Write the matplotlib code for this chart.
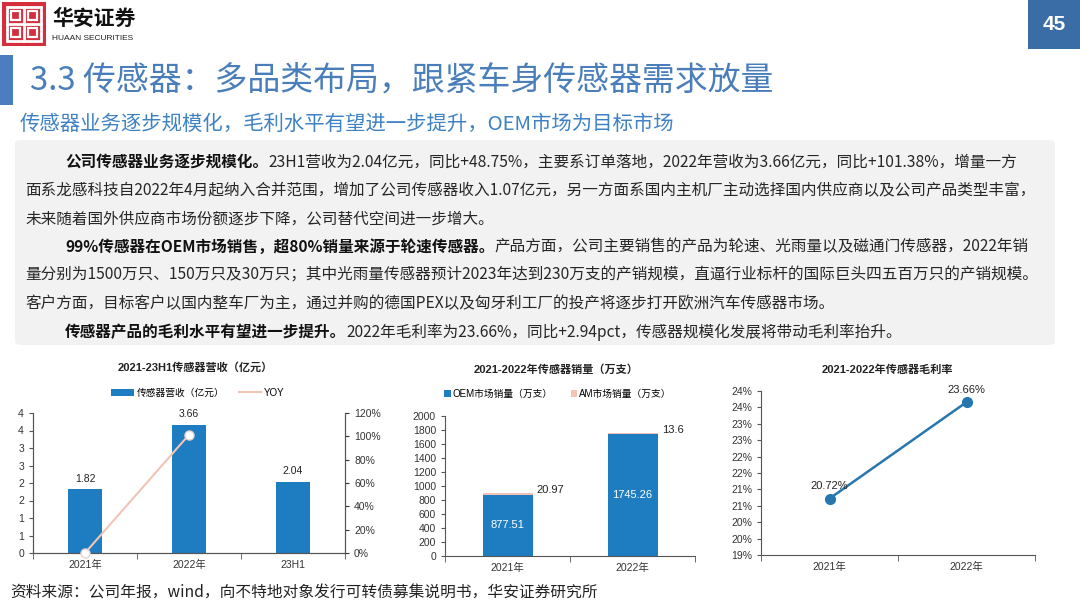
import numpy as np
import matplotlib.pyplot as plt
from matplotlib.patches import Rectangle, FancyBboxPatch
from matplotlib.lines import Line2D
from matplotlib.ticker import FuncFormatter, MultipleLocator, PercentFormatter

# ---- data ----
rev_cats = ['2021年', '2022年', '23H1']
rev_values = [1.82, 3.66, 2.04]
rev_yoy = [0.0, 1.0138, np.nan]

vol_cats = ['2021年', '2022年']
oem_values = [877.51, 1745.26]
am_values = [20.97, 13.6]

gm_cats = ['2021年', '2022年']
gm_values = [20.72, 23.66]

title = '3.3 传感器：多品类布局，跟紧车身传感器需求放量'
subtitle = '传感器业务逐步规模化，毛利水平有望进一步提升，OEM市场为目标市场'
source = '资料来源：公司年报，wind，向不特地对象发行可转债募集说明书，华安证券研究所'

# (indent, [(text, bold), ...])
body_lines = [
    (True, [('公司传感器业务逐步规模化。', True),
            ('23H1营收为2.04亿元，同比+48.75%，主要系订单落地，2022年营收为3.66亿元，同比+101.38%，增量一方', False)]),
    (False, [('面系龙感科技自2022年4月起纳入合并范围，增加了公司传感器收入1.07亿元，另一方面系国内主机厂主动选择国内供应商以及公司产品类型丰富，', False)]),
    (False, [('未来随着国外供应商市场份额逐步下降，公司替代空间进一步增大。', False)]),
    (True, [('99%传感器在OEM市场销售，超80%销量来源于轮速传感器。', True),
            ('产品方面，公司主要销售的产品为轮速、光雨量以及磁通门传感器，2022年销', False)]),
    (False, [('量分别为1500万只、150万只及30万只；其中光雨量传感器预计2023年达到230万支的产销规模，直逼行业标杆的国际巨头四五百万只的产销规模。', False)]),
    (False, [('客户方面，目标客户以国内整车厂为主，通过并购的德国PEX以及匈牙利工厂的投产将逐步打开欧洲汽车传感器市场。', False)]),
    (True, [('传感器产品的毛利水平有望进一步提升。', True),
            ('2022年毛利率为23.66%，同比+2.94pct，传感器规模化发展将带动毛利率抬升。', False)]),
]

BLUE = '#1D7DC0'
PINK = '#F2C4B6'
LINE_BLUE = '#2677B0'
CJK = ['Noto Sans CJK SC', 'DejaVu Sans']
CHART = ['Liberation Sans', 'Noto Sans CJK SC', 'DejaVu Sans']
plt.rcParams['font.family'] = CHART

W, H = 1080, 607
fig = plt.figure(figsize=(10.8, 6.07), dpi=100)
renderer = fig.canvas.get_renderer()


def fx(x):
    return x / W


def fy(y):
    return 1 - y / H


def rect(x0, y0, x1, y1, **kw):
    fig.add_artist(Rectangle((fx(x0), fy(y1)), fx(x1 - x0), (y1 - y0) / H,
                             transform=fig.transFigure, **kw))


# ---- header ----
rect(2, 2, 46, 46, color='#D52E3C', lw=0)
rect(7, 7, 41, 41, fill=False, ec='white', lw=2)
for a, b in [(11, 20), (28, 37)]:
    for c, d in [(11, 20), (28, 37)]:
        rect(a, c, b, d, fill=False, ec='white', lw=1.6)
fig.add_artist(Line2D([fx(24), fx(24)], [fy(7), fy(41)], color='white', lw=2))
fig.add_artist(Line2D([fx(7), fx(41)], [fy(24), fy(24)], color='white', lw=2))
fig.text(fx(52), fy(18), '华安证券', family=CJK, fontsize=15, fontweight='bold',
         color='#111111', va='center', ha='left')
fig.text(fx(52), fy(38), 'HUAAN SECURITIES', family=CHART, fontsize=6,
         color='#222222', va='center', ha='left')

rect(1028, 0, 1080, 49, color='#3A6DA6', lw=0)
fig.text(fx(1054), fy(25), '45', family=CHART, fontsize=15, fontweight='bold',
         color='white', va='center', ha='center')

rect(0, 55, 13, 105, color='#4A7EBF', lw=0)
fig.text(fx(30), fy(80), title, family=CJK, fontsize=23.7, color='#4A7EBB',
         va='center', ha='left')
fig.text(fx(20), fy(124), subtitle, family=CJK, fontsize=14.7, color='#3E82C4',
         va='center', ha='left')

# ---- text box ----
fig.add_artist(FancyBboxPatch((fx(15), fy(345)), fx(1040), (345 - 140) / H,
                              boxstyle='round,pad=0,rounding_size=0.006',
                              transform=fig.transFigure, fc='#F2F2F2', ec='none'))

y = 162
for indent, runs in body_lines:
    x = 65 if indent else 25
    for txt, bold in runs:
        t = fig.text(fx(x), fy(y), txt, family=CJK, fontsize=11.22,
                     fontweight='bold' if bold else 'normal',
                     color='#111111' if bold else '#262626', va='center', ha='left')
        x += t.get_window_extent(renderer).width
    y += 28.3


def boundary_ticks(ax, n):
    ax.set_xticks(np.arange(n))
    ax.set_xticks(np.arange(-0.5, n), minor=True)
    ax.tick_params(axis='x', which='major', length=0, pad=5)
    ax.tick_params(axis='x', which='minor', length=4, color='#555555')
    ax.spines['top'].set_visible(False)
    for s in ax.spines.values():
        s.set_color('#555555')
        s.set_linewidth(0.8)
    ax.tick_params(axis='both', labelsize=7.5, colors='#333333', which='major')
    ax.tick_params(axis='y', length=3, color='#555555')


# ---- chart 1: revenue ----
ax1 = fig.add_axes([fx(33), fy(553), fx(312), 140 / H])
x1 = np.arange(len(rev_cats))
bars1 = ax1.bar(x1, rev_values, width=0.32, color=BLUE, zorder=2)
ax1.set_xlim(-0.5, len(rev_cats) - 0.5)
ax1.set_ylim(0, 4)
ax1.yaxis.set_major_locator(MultipleLocator(0.5))
ax1.yaxis.set_major_formatter(FuncFormatter(lambda v, p: f'{int(np.floor(v + 0.5))}'))
boundary_ticks(ax1, len(rev_cats))
ax1.set_xticklabels(rev_cats)
for xi, v in zip(x1, rev_values):
    ax1.annotate(f'{v:.2f}', (xi, v), xytext=(0, 4), textcoords='offset points',
                 ha='center', va='bottom', fontsize=7.5, color='#222222')
ax1r = ax1.twinx()
line1, = ax1r.plot(x1, rev_yoy, color=PINK, lw=1.5, marker='o', ms=6.5,
                   mfc='white', mec='#EBD3CC', clip_on=False, zorder=3)
ax1r.set_ylim(0, 1.2)
ax1r.yaxis.set_major_locator(MultipleLocator(0.2))
ax1r.yaxis.set_major_formatter(PercentFormatter(1.0, decimals=0))
ax1r.spines['top'].set_visible(False)
for s in ax1r.spines.values():
    s.set_color('#555555')
    s.set_linewidth(0.8)
ax1r.tick_params(axis='y', labelsize=7.5, colors='#333333', length=3)
leg_line = Line2D([], [], color=PINK, lw=1.5)
ax1.legend([bars1, leg_line], ['传感器营收（亿元）', 'YOY'], loc='center',
           bbox_to_anchor=(fx(198), fy(393)), bbox_transform=fig.transFigure,
           ncol=2, frameon=False, fontsize=7, handlelength=2.3, handleheight=0.8,
           columnspacing=1.5, handletextpad=0.3)
fig.text(fx(195), fy(367), '2021-23H1传感器营收（亿元）', fontsize=8,
         fontweight='bold', color='#222222', ha='center', va='center')

# ---- chart 2: volume ----
ax2 = fig.add_axes([fx(445), fy(556), fx(250), 140 / H])
x2 = np.arange(len(vol_cats))
b_oem = ax2.bar(x2, oem_values, width=0.4, color=BLUE, zorder=2)
b_am = ax2.bar(x2, am_values, bottom=oem_values, width=0.4, color=PINK, zorder=2)
ax2.set_xlim(-0.5, len(vol_cats) - 0.5)
ax2.set_ylim(0, 2000)
ax2.yaxis.set_major_locator(MultipleLocator(200))
boundary_ticks(ax2, len(vol_cats))
ax2.spines['right'].set_visible(False)
ax2.set_xticklabels(vol_cats)
for xi, o, a in zip(x2, oem_values, am_values):
    ax2.text(xi, o / 2, f'{o:.2f}', ha='center', va='center', fontsize=8, color='white')
    ax2.annotate(f'{a:g}', (xi + 0.2, o + a), xytext=(3, 2), textcoords='offset points',
                 ha='left', va='center', fontsize=8, color='#222222')
ax2.legend([b_oem, b_am], ['OEM市场销量（万支）', 'AM市场销量（万支）'], loc='center',
           bbox_to_anchor=(fx(558), fy(394)), bbox_transform=fig.transFigure,
           ncol=2, frameon=False, fontsize=7, handlelength=0.7, handleheight=0.7,
           columnspacing=1.8, handletextpad=0.2)
fig.text(fx(556), fy(370), '2021-2022年传感器销量（万支）', fontsize=8,
         fontweight='bold', color='#222222', ha='center', va='center')

# ---- chart 3: gross margin ----
ax3 = fig.add_axes([fx(761), fy(555), fx(274), 164 / H])
x3 = np.arange(len(gm_cats))
ax3.plot(x3, gm_values, color=LINE_BLUE, lw=1.8, marker='o', ms=7, zorder=3)
ax3.set_xlim(-0.5, len(gm_cats) - 0.5)
ax3.set_ylim(19, 24)
ax3.yaxis.set_major_locator(MultipleLocator(0.5))
ax3.yaxis.set_major_formatter(FuncFormatter(lambda v, p: f'{int(np.floor(v + 0.5))}%'))
boundary_ticks(ax3, len(gm_cats))
ax3.spines['right'].set_visible(False)
ax3.set_xticklabels(gm_cats)
for xi, v in zip(x3, gm_values):
    ax3.annotate(f'{v:.2f}%', (xi, v), xytext=(0, 9), textcoords='offset points',
                 ha='center', va='center', fontsize=8, color='#222222')
fig.text(fx(887), fy(370), '2021-2022年传感器毛利率', fontsize=8,
         fontweight='bold', color='#222222', ha='center', va='center')

# ---- footer ----
fig.text(fx(10), fy(593), source, family=CJK, fontsize=11.3, color='#222222',
         va='center', ha='left')

fig.savefig('out.png', dpi=100)
